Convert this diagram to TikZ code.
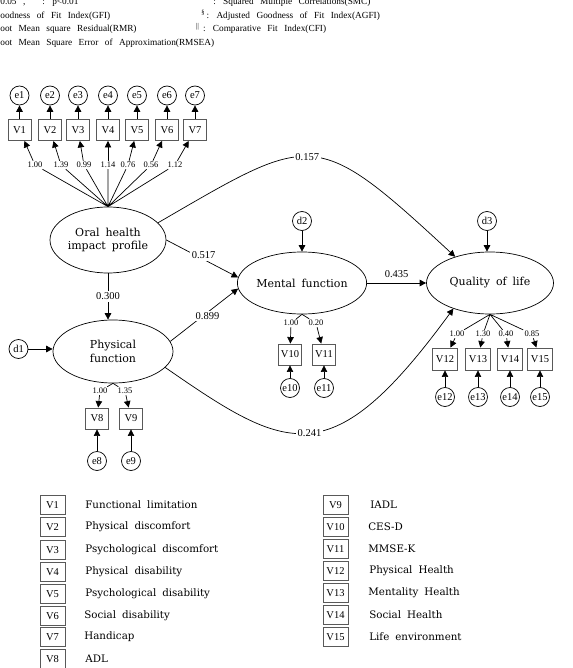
\documentclass[tikz,border=0pt]{standalone}
\usepackage{fontspec}
\setmainfont{Liberation Serif}
\newfontfamily\krfont{DejaVu Serif}
\usetikzlibrary{shapes.geometric,arrows.meta}
\newcommand\hdrfont{\fontsize{9.3}{11}\selectfont\spaceskip=6.5pt plus 1pt\relax}
\newcommand\latfont{\krfont\fontsize{11}{13.5}\selectfont\spaceskip=6pt plus 1pt\relax}
\newcommand\keyfont{\krfont\fontsize{10.3}{12}\selectfont\spaceskip=6pt plus 1pt\relax}

\begin{document}
\begin{tikzpicture}[>={Triangle[length=6.5pt,width=6.5pt]},x=1pt,y=-1pt,line width=0.7pt,
    hdr/.style={anchor=base west,inner sep=0pt,font=\hdrfont},
    lat/.style={draw,ellipse,inner sep=0pt,align=center,font=\latfont},
    obs/.style={draw=black!65,line width=0.9pt,minimum width=23pt,minimum height=21pt,inner sep=0pt,font=\fontsize{10.5}{12}\selectfont},
    err/.style={draw,circle,minimum size=19pt,inner sep=0pt,font=\fontsize{10.5}{12}\selectfont},
    coef/.style={inner sep=1pt,font=\fontsize{8.5}{9}\selectfont},
    est/.style={fill=white,inner sep=1.5pt,font=\fontsize{10.5}{12}\selectfont},
    keybox/.style={obs,minimum width=25pt,minimum height=19pt},
    key/.style={anchor=west,inner sep=0pt,font=\keyfont}]
    \useasboundingbox (0,0) rectangle (572,668);

    % notes on top
    \node[hdr] (h1) at (0,5) {0.05 ,\hspace{17pt}: p<0.01};
    \node[hdr] (h2) at (0,18.5) {oodness of Fit Index(GFI)};
    \node[hdr] (h3) at (0,32) {oot Mean square Residual(RMR)};
    \node[hdr] (h4) at (0,46) {oot Mean Square Error of Approximation(RMSEA)};
    \node[hdr] (h5) at (213,5) {: Squared Multiple Correlations(SMC)};
    \node[hdr] (h6) at (201,18.5) {\textsuperscript{\S}\,: Adjusted Goodness of Fit Index(AGFI)};
    \node[hdr] (h7) at (195,32) {\textsuperscript{$\|$}\,\,: Comparative Fit Index(CFI)};

    % oral health impact profile
    \node[lat,minimum width=116pt,minimum height=66pt] (ohip) at (108,240) {Oral health\\impact profile};
    \node[err] (e1) at (19.5,95.5) {e1};
    \node[err] (e2) at (50,95.5) {e2};
    \node[err] (e3) at (78,95.5) {e3};
    \node[err] (e4) at (108,95.5) {e4};
    \node[err] (e5) at (137,95.5) {e5};
    \node[err] (e6) at (167,95.5) {e6};
    \node[err] (e7) at (195,95.5) {e7};
    \node[obs] (V1) at (19.5,130) {V1};
    \node[obs] (V2) at (50,130) {V2};
    \node[obs] (V3) at (78,130) {V3};
    \node[obs] (V4) at (108,130) {V4};
    \node[obs] (V5) at (137,130) {V5};
    \node[obs] (V6) at (167,130) {V6};
    \node[obs] (V7) at (195,130) {V7};
    \node[coef] (l1) at (35,165) {1.00};
    \node[coef] (l2) at (61,165) {1.39};
    \node[coef] (l3) at (84,165) {0.99};
    \node[coef] (l4) at (108,165) {1.14};
    \node[coef] (l5) at (128,165) {0.76};
    \node[coef] (l6) at (151,165) {0.56};
    \node[coef] (l7) at (175,165) {1.12};
    \draw (ohip.north) -- (l1) (ohip.north) -- (l2) (ohip.north) -- (l3) (ohip.north) -- (l4)
        (ohip.north) -- (l5) (ohip.north) -- (l6) (ohip.north) -- (l7);
    \draw[->] (l1) -- (V1);
    \draw[->] (l2) -- (V2);
    \draw[->] (l3) -- (V3);
    \draw[->] (l4) -- (V4);
    \draw[->] (l5) -- (V5);
    \draw[->] (l6) -- (V6);
    \draw[->] (l7) -- (V7);
    \draw[->] (V1) -- (e1);
    \draw[->] (V2) -- (e2);
    \draw[->] (V3) -- (e3);
    \draw[->] (V4) -- (e4);
    \draw[->] (V5) -- (e5);
    \draw[->] (V6) -- (e6);
    \draw[->] (V7) -- (e7);

    % physical function
    \node[lat,minimum width=120pt,minimum height=63pt] (phys) at (113,351.5) {Physical\\function};
    \node[err] (d1) at (18.5,349) {d1};
    \node[obs] (V8) at (97,418.5) {V8};
    \node[obs] (V9) at (131,418.5) {V9};
    \node[err] (e8) at (97,461) {e8};
    \node[err] (e9) at (131,461) {e9};
    \node[coef] (l8) at (100,391) {1.00};
    \node[coef] (l9) at (125,391) {1.35};
    \draw[->] (d1) -- (d1 -| phys.west);
    \draw (phys.south) -- (l8) (phys.south) -- (l9);
    \draw[->] (l8) -- (V8);
    \draw[->] (l9) -- (V9);
    \draw[->] (e8) -- (V8);
    \draw[->] (e9) -- (V9);

    % mental function
    \node[lat,minimum width=126pt,minimum height=62pt] (ment) at (302,283) {Mental function};
    \node[err] (d2) at (302,221) {d2};
    \node[obs] (V10) at (290,354.5) {V10};
    \node[obs] (V11) at (324,354.5) {V11};
    \node[err] (e10) at (290,388) {e10};
    \node[err] (e11) at (324,388) {e11};
    \node[coef] (l10) at (291,323) {1.00};
    \node[coef] (l11) at (316,323) {0.20};
    \draw[->] (d2) -- (ment);
    \draw (ment.south) -- (l10) (ment.south) -- (l11);
    \draw[->] (l10) -- (V10);
    \draw[->] (l11) -- (V11);
    \draw[->] (e10) -- (V10);
    \draw[->] (e11) -- (V11);

    % quality of life
    \node[lat,minimum width=127pt,minimum height=62pt] (qol) at (490,283) {Quality of life};
    \node[err] (d3) at (487,221) {d3};
    \node[obs,minimum width=25pt,minimum height=22pt] (V12) at (445,359) {V12};
    \node[obs,minimum width=25pt,minimum height=22pt] (V13) at (478,359) {V13};
    \node[obs,minimum width=25pt,minimum height=22pt] (V14) at (510,359) {V14};
    \node[obs,minimum width=25pt,minimum height=22pt] (V15) at (540,359) {V15};
    \node[err] (e12) at (445,397) {e12};
    \node[err] (e13) at (478,397) {e13};
    \node[err] (e14) at (510,397) {e14};
    \node[err] (e15) at (540,397) {e15};
    \node[coef] (l12) at (457,334) {1.00};
    \node[coef] (l13) at (483,334) {1.30};
    \node[coef] (l14) at (506,334) {0.40};
    \node[coef] (l15) at (532,334) {0.85};
    \draw[->] (d3) -- (d3 |- qol.north);
    \draw (qol.south) -- (l12) (qol.south) -- (l13) (qol.south) -- (l14) (qol.south) -- (l15);
    \draw[->] (l12) -- (V12);
    \draw[->] (l13) -- (V13);
    \draw[->] (l14) -- (V14);
    \draw[->] (l15) -- (V15);
    \draw[->] (e12) -- (V12);
    \draw[->] (e13) -- (V13);
    \draw[->] (e14) -- (V14);
    \draw[->] (e15) -- (V15);

    % structural paths
    \draw[->] (ohip.south) -- (ohip.south |- phys.north) node[est,midway] {0.300};
    \draw[->] (ohip.east) -- (ment.175) node[est,pos=0.52,yshift=4pt] {0.517};
    \draw[->] (phys.10) -- (ment.185) node[est,pos=0.55,yshift=-4pt] {0.899};
    \draw[->] (ment) -- (qol) node[est,midway,above=4pt] {0.435};
    \draw[->] (ohip.19) .. controls (313,133) and (314,126) .. (qol.143) node[est,pos=0.48] {0.157};
    \draw[->] (phys.-17) .. controls (288,452.5) and (331,476) .. (qol.215) node[est,pos=0.5] {0.241};

    % legend
    \node[keybox] (k1) at (52.5,505) {V1};
    \node[keybox] (k2) at (52.5,527) {V2};
    \node[keybox] (k3) at (52.5,550) {V3};
    \node[keybox] (k4) at (52.5,572) {V4};
    \node[keybox] (k5) at (52.5,594) {V5};
    \node[keybox] (k6) at (52.5,616) {V6};
    \node[keybox] (k7) at (52.5,637) {V7};
    \node[keybox] (k8) at (52.5,659) {V8};
    \node[key] (t1) at (85,505) {Functional limitation};
    \node[key] (t2) at (85,527) {Physical discomfort};
    \node[key] (t3) at (85,550) {Psychological discomfort};
    \node[key] (t4) at (85,572) {Physical disability};
    \node[key] (t5) at (85,594) {Psychological disability};
    \node[key] (t6) at (84,616) {Social disability};
    \node[key] (t7) at (84,637) {Handicap};
    \node[key] (t8) at (85,659) {ADL};
    \node[keybox] (k9) at (335.5,505) {V9};
    \node[keybox] (k10) at (335.5,527) {V10};
    \node[keybox] (k11) at (335.5,549) {V11};
    \node[keybox] (k12) at (335.5,571) {V12};
    \node[keybox] (k13) at (335.5,593) {V13};
    \node[keybox] (k14) at (335.5,615) {V14};
    \node[keybox] (k15) at (335.5,637) {V15};
    \node[key] (t9) at (370,505) {IADL};
    \node[key] (t10) at (368,527) {CES-D};
    \node[key] (t11) at (368,549) {MMSE-K};
    \node[key] (t12) at (369,571) {Physical Health};
    \node[key] (t13) at (368,593) {Mentality Health};
    \node[key] (t14) at (369,615) {Social Health};
    \node[key] (t15) at (369,637) {Life environment};
\end{tikzpicture}
\end{document}
